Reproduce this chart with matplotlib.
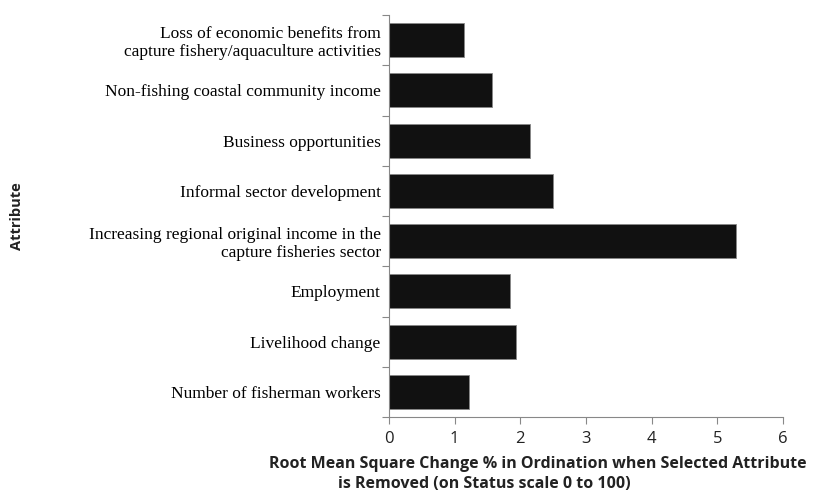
import matplotlib
matplotlib.use("Agg")
import matplotlib.pyplot as plt
import numpy as np

# attributes listed bottom to top
attributes = [
    "Number of fisherman workers",
    "Livelihood change",
    "Employment",
    "Increasing regional original income in the\ncapture fisheries sector",
    "Informal sector development",
    "Business opportunities",
    "Non-fishing coastal community income",
    "Loss of economic benefits from\ncapture fishery/aquaculture activities",
]
rms_change = [1.22, 1.93, 1.85, 5.29, 2.50, 2.15, 1.57, 1.14]
x_ticks = [0, 1, 2, 3, 4, 5, 6]

fig = plt.figure(figsize=(8.13, 4.92), dpi=100)
ax = fig.add_axes([0.4785, 0.1524, 0.4845, 0.8171])

pos = np.arange(len(attributes))
ax.barh(pos, rms_change, height=0.68, color="#111111", edgecolor="#888888", linewidth=0.6)

ax.set_xlim(0, 6)
ax.set_ylim(-0.5, len(attributes) - 0.5)

"""category labels at centres, tick marks at the boundaries"""
ax.set_yticks(pos)
ax.set_yticklabels(attributes, family="Liberation Serif", fontsize=12.5, linespacing=1.15)
ax.tick_params(axis="y", which="major", length=0, pad=6)
ax.set_yticks(np.arange(len(attributes) + 1) - 0.5, minor=True)
ax.tick_params(axis="y", which="minor", length=5, color="#888888", width=0.8)

ax.set_xticks(x_ticks)
ax.set_xticklabels([str(t) for t in x_ticks], family="Open Sans", fontsize=12, color="#222222")
ax.tick_params(axis="x", length=5, color="#888888", width=0.8, pad=5)

for s in ["top", "right"]:
    ax.spines[s].set_visible(False)
for s in ["left", "bottom"]:
    ax.spines[s].set_color("#888888")
    ax.spines[s].set_linewidth(0.8)

"""axis titles as figure text so the two lines can sit as in the original"""
fig.text(538 / 813, 1 - 464 / 492, "Root Mean Square Change % in Ordination when Selected Attribute",
         family="Open Sans", fontweight="bold", fontsize=11.5, color="#222222", ha="center", va="center")
fig.text(484 / 813, 1 - 484 / 492, "is Removed (on Status scale 0 to 100)",
         family="Open Sans", fontweight="bold", fontsize=11.5, color="#222222", ha="center", va="center")
fig.text(0.021, 0.56, "Attribute", rotation=90, family="Open Sans", fontweight="bold",
         fontsize=10.5, color="#222222", ha="center", va="center")

fig.savefig("out.png", dpi=100)
